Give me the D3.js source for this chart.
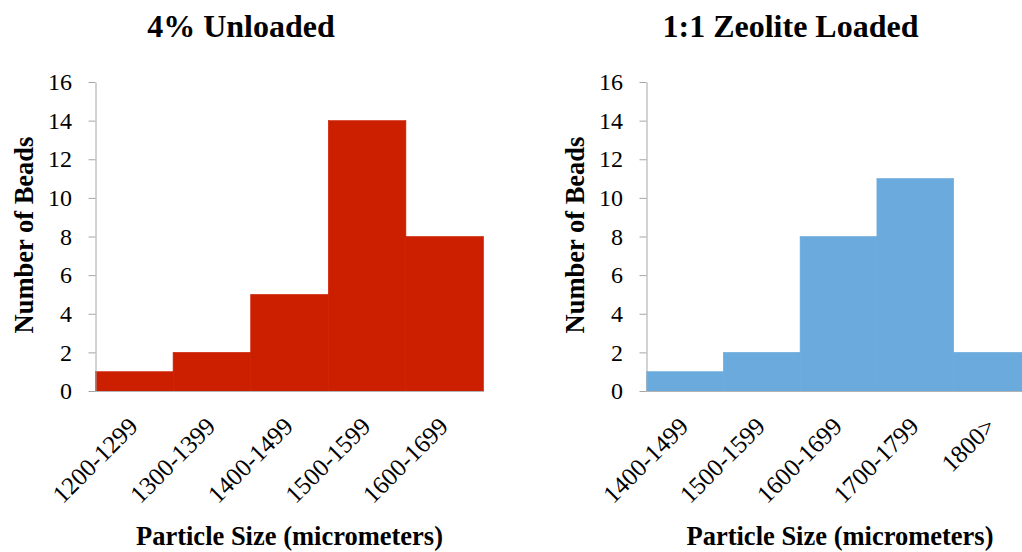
<!DOCTYPE html>
<html lang="en">
<head>
  <meta charset="UTF-8">
  <title>Bead Size Histograms</title>
  <script src="https://d3js.org/d3.v7.min.js"></script>
  <style>
    body { margin: 0; background: #fff; }
    text { font-family: "Liberation Serif", "Times New Roman", serif; fill: #000; }
  </style>
</head>
<body>
  <svg width="1022" height="552"></svg>

  <script>
    // data
    const unloadedBins = ["1200-1299", "1300-1399", "1400-1499", "1500-1599", "1600-1699"];
    const unloadedCounts = [1, 2, 5, 14, 8];

    const zeoliteBins = ["1400-1499", "1500-1599", "1600-1699", "1700-1799", "1800>"];
    const zeoliteCounts = [1, 2, 8, 11, 2];

    const yTicks = [0, 2, 4, 6, 8, 10, 12, 14, 16];

    const svg = d3.select("svg");

    function drawPanel(opts) {
      const g = svg.append("g");

      const x = d3.scaleBand()
          .domain(opts.bins)
          .range([opts.left, opts.left + opts.barW * opts.bins.length])
          .padding(0);

      const y = d3.scaleLinear()
          .domain([0, 16])
          .range([391, 82]);

      // bars (stroke in same colour so neighbours join without a seam)
      g.selectAll("rect")
          .data(opts.counts)
          .enter().append("rect")
          .attr("x", (d, i) => x(opts.bins[i]))
          .attr("y", d => y(d))
          .attr("width", x.bandwidth())
          .attr("height", d => y(0) - y(d))
          .attr("fill", opts.color)
          .attr("stroke", opts.color)
          .attr("stroke-width", 0.6);

      // y axis
      const yAxis = g.append("g")
          .attr("transform", `translate(${opts.left},0)`)
          .call(d3.axisLeft(y).tickValues(yTicks).tickSize(7).tickPadding(16.5).tickSizeOuter(0));
      yAxis.select(".domain").attr("stroke", "#a6a6a6");
      yAxis.selectAll(".tick line").attr("stroke", "#a6a6a6");
      yAxis.selectAll(".tick text")
          .attr("font-size", 24);

      // x axis (baseline, no ticks)
      const xAxis = g.append("g")
          .attr("transform", `translate(0,${y(0)})`)
          .call(d3.axisBottom(x).tickSize(0).tickPadding(0));
      xAxis.select(".domain").attr("stroke", "#b3b3b3");
      xAxis.selectAll(".tick text")
          .attr("font-size", 25)
          .attr("text-anchor", "end")
          .attr("dy", null)
          .attr("transform", "translate(5,37) rotate(-45)");

      // title
      g.append("text")
          .attr("x", opts.titleX)
          .attr("y", 37)
          .attr("text-anchor", "middle")
          .attr("font-size", 32)
          .attr("font-weight", "bold")
          .text(opts.title);

      // y label
      g.append("text")
          .attr("transform", `translate(${opts.left - 62.5},235) rotate(-90)`)
          .attr("text-anchor", "middle")
          .attr("font-size", 26.5)
          .attr("font-weight", "bold")
          .text("Number of Beads");

      // x label
      g.append("text")
          .attr("x", opts.xLabelX)
          .attr("y", 545)
          .attr("text-anchor", "middle")
          .attr("font-size", 26.5)
          .attr("font-weight", "bold")
          .text("Particle Size (micrometers)");
    }

    drawPanel({
      bins: unloadedBins, counts: unloadedCounts, color: "#cc1f00",
      left: 95.5, barW: 77.6, title: "4% Unloaded", titleX: 241, xLabelX: 289.5
    });

    drawPanel({
      bins: zeoliteBins, counts: zeoliteCounts, color: "#6aaadc",
      left: 646.5, barW: 76.8, title: "1:1 Zeolite Loaded", titleX: 790.5, xLabelX: 840
    });
  </script>
</body>
</html>
